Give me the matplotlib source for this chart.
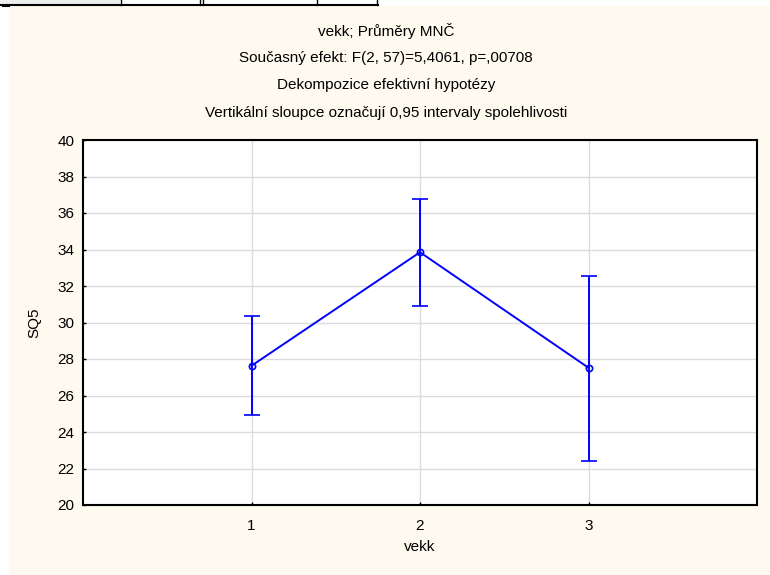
import numpy as np
import matplotlib
matplotlib.use('Agg')
import matplotlib.pyplot as plt
from matplotlib.patches import Rectangle
from matplotlib.lines import Line2D

plt.rcParams['font.family'] = ['Liberation Sans', 'DejaVu Sans']

# data
groups = [1, 2, 3]
means = [27.63, 33.85, 27.52]
ci_low = [24.92, 30.89, 22.41]
ci_high = [30.36, 36.75, 32.57]

title_lines = [
    'vekk; Průměry MNČ',
    'Současný efekt: F(2, 57)=5,4061, p=,00708',
    'Dekompozice efektivní hypotézy',
    'Vertikální sloupce označují 0,95 intervaly spolehlivosti',
]

W, H = 770, 575
fig = plt.figure(figsize=(W / 100, H / 100), dpi=100)
fig.patch.set_facecolor('white')

# cream panel behind the chart
fig.patches.append(Rectangle((9 / W, 0), 1, 1 - 6 / H, transform=fig.transFigure,
                             facecolor='#fffaf0', edgecolor='none', zorder=-5))

# cut-off table fragment at the very top
def px_line(x0, y0, x1, y1, lw=1.0, color='black'):
    fig.add_artist(Line2D([x0 / W, x1 / W], [1 - y0 / H, 1 - y1 / H],
                          transform=fig.transFigure, color=color, lw=lw))

fig.patches.append(Rectangle((0, 1 - 4 / H), 120 / W, 4 / H, transform=fig.transFigure,
                             facecolor='#eeeeee', edgecolor='none', zorder=-4))
px_line(0, 5, 378, 5, lw=1.5)
for x in [121, 200, 203, 317, 377]:
    px_line(x, 0, x, 5, lw=1.0)
px_line(3, 6, 9, 6, lw=1.5)

# axes placement in pixels
left, right, top, bottom = 83, 757, 140, 505
ax = fig.add_axes([left / W, 1 - bottom / H, (right - left) / W, (bottom - top) / H])
ax.set_facecolor('white')
ax.set_zorder(2)

yerr = [np.array(means) - np.array(ci_low), np.array(ci_high) - np.array(means)]
ax.errorbar(groups, means, yerr=yerr, color='#0000ff', lw=1.4, elinewidth=1.4,
            capsize=6, capthick=1.4, marker='o', markersize=4.5,
            markerfacecolor='none', markeredgecolor='#0000ff', markeredgewidth=1.2,
            zorder=3)

ax.set_xlim(0, 4)
ax.set_ylim(20, 40)
ax.set_xticks(groups)
ax.set_yticks(np.arange(20, 41, 2))
ax.grid(True, color='#dcdcdc', lw=1.0)
ax.set_axisbelow(True)
ax.tick_params(direction='in', length=2, width=1, labelsize=11, pad=6)
ax.tick_params(axis='x', pad=10)
for s in ax.spines.values():
    s.set_linewidth(1.5)

ax.set_xlabel('vekk', fontsize=11, labelpad=5)
ax.set_ylabel('SQ5', fontsize=11, labelpad=12)

for i, t in enumerate(title_lines):
    fig.text(386 / W, 1 - (31 + 27.2 * i) / H, t, ha='center', va='center', fontsize=11)

fig.savefig('out.png', dpi=100)
